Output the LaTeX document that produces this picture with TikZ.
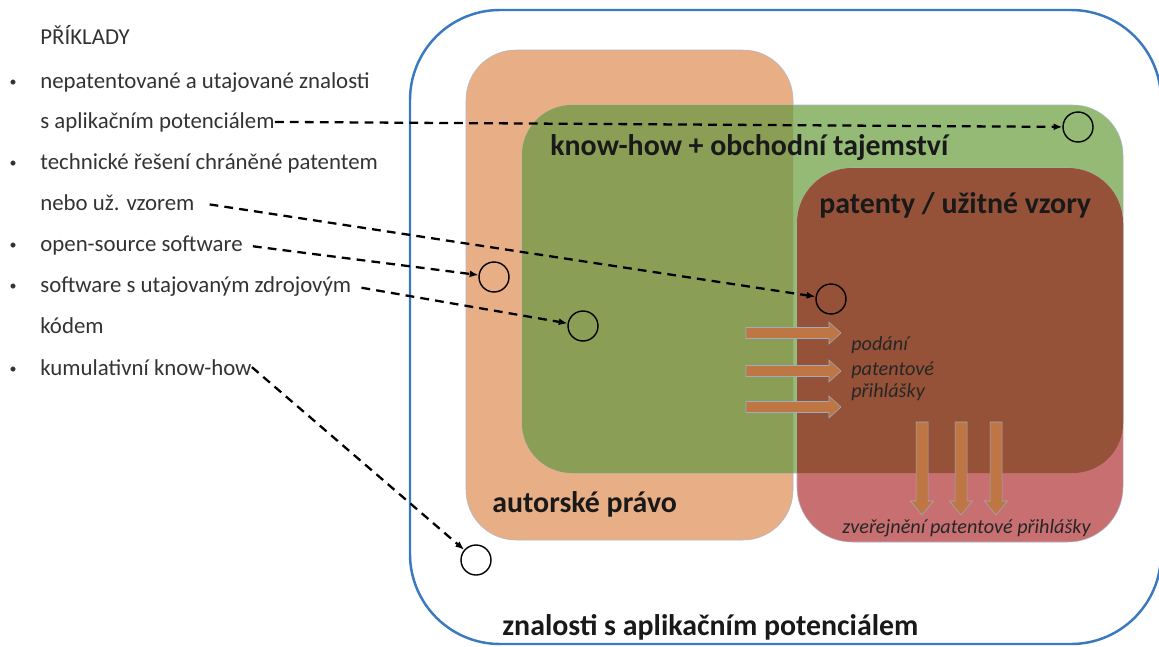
\documentclass[tikz,border=0pt]{standalone}
\usepackage{fontspec}
\setmainfont{Carlito}
\usetikzlibrary{positioning, arrows.meta}

\definecolor{outerblue}{RGB}{58,120,192}
\definecolor{copyorange}{RGB}{232,174,134}
\definecolor{secretgreen}{RGB}{148,186,118}
\definecolor{mixgreen}{RGB}{139,158,86}
\definecolor{patentpink}{RGB}{200,112,113}
\definecolor{patentbrown}{RGB}{150,82,57}
\definecolor{stepfill}{RGB}{190,118,68}
\definecolor{edgegray}{RGB}{120,135,160}

\begin{document}
\begin{tikzpicture}[x=0.02cm, y=-0.02cm,
  item/.style={anchor=base west, inner sep=0, text=black!80, font=\fontsize{13}{15}\selectfont},
  title/.style={anchor=base west, inner sep=0, text=black!90, font=\fontsize{17}{20}\selectfont\bfseries},
  note/.style={anchor=base west, inner sep=0, text=black!85, font=\fontsize{11.5}{13}\selectfont\itshape},
  spot/.style={circle, draw, line width=0.8pt, minimum size=0.6cm, inner sep=0},
  link/.style={-{Latex[length=5pt,width=4pt]}, line width=1.3pt, dash pattern=on 5pt off 3.5pt},
  blockarrow/.style={fill=stepfill, draw=edgegray!70, line width=0.3pt}]

\useasboundingbox (0,0) rectangle (1159,646);

% areas
\draw[outerblue, line width=1.4pt, rounded corners=1.8cm] (410,10) rectangle (1161,644);
\filldraw[fill=copyorange, draw=edgegray!60, line width=0.3pt, rounded corners=1cm] (466,50) rectangle (793,540);
\filldraw[fill=secretgreen, draw=edgegray!60, line width=0.3pt, rounded corners=1cm] (522,105) rectangle (1123,473);
\begin{scope}
  \clip[rounded corners=1cm] (466,50) rectangle (793,540);
  \fill[mixgreen, rounded corners=1cm] (522,105) rectangle (1123,473);
\end{scope}
\filldraw[fill=patentpink, draw=edgegray!60, line width=0.3pt, rounded corners=1.1cm] (797,168) rectangle (1123,542);
\begin{scope}
  \clip[rounded corners=1cm] (522,105) rectangle (1123,473);
  \fill[patentbrown, rounded corners=1.1cm] (797,168) rectangle (1123,542);
\end{scope}

% block arrows
\foreach \y in {333,371,407}
  \draw[blockarrow] (746,\y-5.5) -- (829,\y-5.5) -- (829,\y-11) -- (841,\y)
    -- (829,\y+11) -- (829,\y+5.5) -- (746,\y+5.5) -- cycle;
\foreach \x in {922,961,996}
  \draw[blockarrow] (\x-6,422) -- (\x-6,501) -- (\x-11.5,501) -- (\x,515)
    -- (\x+11.5,501) -- (\x+6,501) -- (\x+6,422) -- cycle;

% labels
\node[title] (secret) at (550,155) {know-how + obchodní tajemství};
\node[title] (patent) at (819,213) {patenty / užitné vzory};
\node[title] (author) at (492,512) {autorské právo};
\node[title] (know) at (502,635) {znalosti s aplikačním potenciálem};
\node[note] (filing1) at (851,350) {podání};
\node[note] (filing2) at (851,375) {patentové};
\node[note] (filing3) at (851,397) {přihlášky};
\node[note] (publish) at (842,533) {zveřejnění patentové přihlášky};

% examples
\node[item] (head) at (40,44) {PŘÍKLADY};
\node[item] (ex1) at (40,88) {nepatentované a utajované znalosti};
\node[item] (ex1b) at (40,128) {s aplikačním potenciálem};
\node[item] (ex2) at (40,169) {technické řešení chráněné patentem};
\node[item] (ex2b) at (40,210) {nebo už. vzorem};
\node[item] (ex3) at (40,251) {open-source software};
\node[item] (ex4) at (40,292) {software s utajovaným zdrojovým};
\node[item] (ex4b) at (40,333) {kódem};
\node[item] (ex5) at (40,375) {kumulativní know-how};
\foreach \y/\n in {88/1,169/2,251/3,292/4,375/5}
  \node[item, anchor=base, font=\fontsize{8}{9}\selectfont] (dot\n) at (13,\y-2) {\textbullet};

% spots
\node[spot] (s1) at (1078,127) {};
\node[spot] (s2) at (494,277) {};
\node[spot] (s3) at (831,299) {};
\node[spot] (s4) at (583,326) {};
\node[spot] (s5) at (476,560) {};

\draw[link] (ex1b.east) -- (s1);
\draw[link, shorten <=0.3cm] (ex2b.east) -- (s3);
\draw[link, shorten <=0.2cm] (ex3.east) -- (s2);
\draw[link, shorten <=0.2cm] (ex4.east) -- (s4);
\draw[link] (ex5.east) -- (s5);

\end{tikzpicture}
\end{document}
